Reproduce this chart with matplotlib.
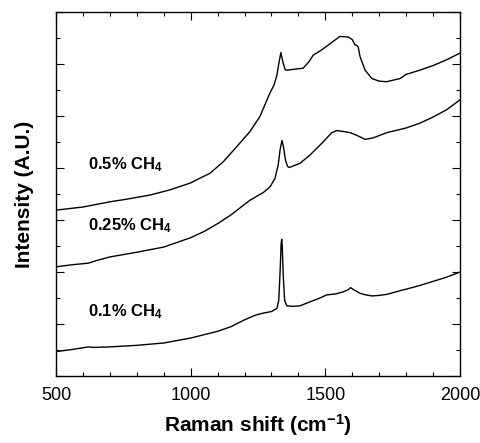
import matplotlib.pyplot as plt
from matplotlib.ticker import MultipleLocator

plt.rcParams['font.family'] = ['Liberation Sans', 'DejaVu Sans']
plt.rcParams['mathtext.default'] = 'regular'

# Raman spectra (arbitrary intensity units, stacked)
x_01 = [500, 560, 620, 640, 700, 800, 900, 1000, 1100, 1150, 1200, 1240, 1270,
        1300, 1320, 1327, 1332, 1336, 1338, 1340, 1344, 1349, 1357, 1380, 1406,
        1430, 1455, 1480, 1505, 1540, 1567, 1585, 1594, 1605, 1629, 1650, 1673,
        1700, 1728, 1777, 1800, 1850, 1900, 1950, 2000]
y_01 = [0.47, 0.51, 0.56, 0.55, 0.56, 0.59, 0.635, 0.73, 0.86, 0.95, 1.08, 1.17,
        1.21, 1.24, 1.30, 1.45, 2.0, 2.55, 2.63, 2.5, 1.9, 1.45, 1.35, 1.34, 1.35,
        1.40, 1.45, 1.50, 1.56, 1.58, 1.62, 1.66, 1.70, 1.66, 1.59, 1.56, 1.54,
        1.55, 1.57, 1.64, 1.67, 1.74, 1.82, 1.90, 2.0]

x_025 = [500, 560, 620, 650, 700, 800, 900, 1000, 1050, 1100, 1150, 1220, 1270,
         1295, 1313, 1325, 1332, 1339, 1345, 1352, 1360, 1366, 1406, 1443, 1486,
         1524, 1542, 1570, 1592, 1616, 1648, 1678, 1728, 1777, 1800, 1850, 1900,
         1950, 2000]
y_025 = [2.10, 2.14, 2.17, 2.22, 2.29, 2.38, 2.48, 2.66, 2.78, 2.93, 3.10, 3.38,
         3.53, 3.64, 3.80, 4.06, 4.35, 4.53, 4.40, 4.15, 4.03, 4.01, 4.09, 4.25,
         4.47, 4.68, 4.72, 4.70, 4.68, 4.63, 4.55, 4.58, 4.68, 4.74, 4.77, 4.86,
         4.98, 5.12, 5.31]

x_05 = [500, 600, 700, 762, 849, 923, 998, 1072, 1121, 1171, 1220, 1257, 1295,
        1310, 1320, 1327, 1335, 1342, 1350, 1354, 1418, 1440, 1455, 1486, 1520,
        1554, 1585, 1600, 1610, 1616, 1622, 1629, 1648, 1673, 1700, 1728, 1777,
        1800, 1850, 1900, 1950, 2000]
y_05 = [3.19, 3.25, 3.35, 3.40, 3.48, 3.58, 3.71, 3.90, 4.12, 4.41, 4.70, 4.99,
        5.45, 5.60, 5.78, 6.00, 6.22, 6.05, 5.90, 5.88, 5.92, 6.05, 6.17, 6.27,
        6.40, 6.53, 6.52, 6.47, 6.37, 6.36, 6.33, 6.14, 5.88, 5.72, 5.67, 5.66,
        5.72, 5.80, 5.88, 5.97, 6.08, 6.21]

labels = ['0.5% CH$_4$', '0.25% CH$_4$', '0.1% CH$_4$']
label_y = [4.06, 2.90, 1.23]

fig = plt.figure(figsize=(4.8, 4.43), dpi=100)
ax = fig.add_axes([0.1167, 0.1512, 0.8416, 0.8217])

for xs, ys in [(x_01, y_01), (x_025, y_025), (x_05, y_05)]:
    ax.plot(xs, ys, color='black', lw=1.0)

for lab, ly in zip(labels, label_y):
    ax.text(620, ly, lab, fontsize=12, fontweight='bold', va='center', ha='left')

ax.set_xlim(500, 2000)
ax.set_ylim(0, 7)
ax.xaxis.set_major_locator(MultipleLocator(500))
ax.xaxis.set_minor_locator(MultipleLocator(100))
ax.yaxis.set_major_locator(MultipleLocator(1))
ax.yaxis.set_minor_locator(MultipleLocator(0.5))
ax.tick_params(which='both', direction='in', top=True, right=True, labelleft=False)
ax.tick_params(which='major', length=6, width=0.8, labelsize=13, pad=8)
ax.tick_params(which='minor', length=3, width=0.8)
for s in ax.spines.values():
    s.set_linewidth(1.0)

ax.set_xlabel('Raman shift (cm$^{-1}$)', fontsize=15, fontweight='bold', labelpad=6)
ax.set_ylabel('Intensity (A.U.)', fontsize=15, fontweight='bold', labelpad=16)

fig.savefig('out.png', dpi=100)
